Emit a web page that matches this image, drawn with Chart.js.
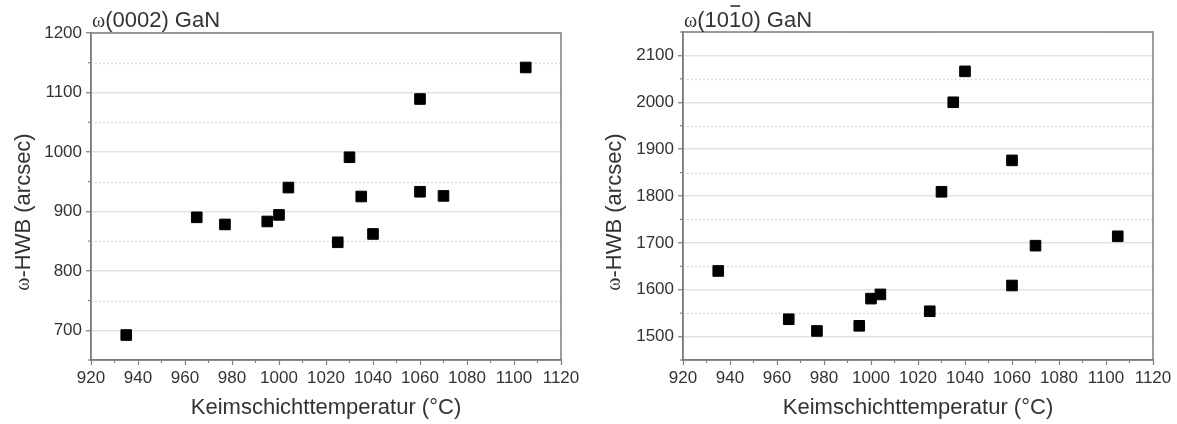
<!DOCTYPE html>
<html>
<head>
<meta charset="utf-8">
<script src="https://cdn.jsdelivr.net/npm/chart.js@4.4.1/dist/chart.umd.min.js"></script>
<style>
  html, body { margin: 0; padding: 0; background: #fff; }
  #wrap { position: relative; width: 1177px; height: 424px; }
  canvas { position: absolute; top: 0; }
</style>
</head>
<body>
<div id="wrap">
  <canvas id="links" width="588" height="424" style="left:0"></canvas>
  <canvas id="rechts" width="589" height="424" style="left:588px"></canvas>
</div>
<script>
// Werte
const temperaturen = [935, 965, 977, 995, 1000, 1004, 1025, 1030, 1035, 1040, 1060, 1060, 1070, 1105];
const hwb0002 = [692, 890, 878, 883, 894, 940, 848, 991, 925, 862, 1089, 933, 926, 1142];
const hwb1010 = [1640, 1537, 1512, 1523, 1581, 1590, 1554, 1809, 2000, 2066, 1876, 1609, 1694, 1714];

const xBereich = [920, 1120];
const yBereich0002 = [650, 1200];
const yBereich1010 = [1450, 2150];

const SANS = '"Liberation Sans", Arial, sans-serif';
const SERIF = '"Liberation Serif", "Times New Roman", serif';
const achsenGrau = '#7d7d7d';
const textFarbe = '#333';

// Text aus mehreren Teilen (omega in Serifenschrift)
function mischText(ctx, teile, x, y, align) {
  let breite = 0;
  teile.forEach(t => { ctx.font = t.font; breite += ctx.measureText(t.text).width; });
  let pos = align === 'center' ? x - breite / 2 : x;
  ctx.textAlign = 'left';
  teile.forEach(t => {
    ctx.font = t.font;
    const w = ctx.measureText(t.text).width;
    ctx.fillText(t.text, pos, y);
    if (t.strich) {
      ctx.save();
      ctx.strokeStyle = textFarbe;
      ctx.lineWidth = 1.6;
      ctx.beginPath();
      ctx.moveTo(pos + 1.5, y - 21);
      ctx.lineTo(pos + w - 1, y - 21);
      ctx.stroke();
      ctx.restore();
    }
    pos += w;
  });
}

const deko = {
  id: 'deko',
  beforeDatasetsDraw(chart, args, opts) {
    const {ctx, chartArea: a, scales: {x, y}} = chart;
    ctx.save();
    // gepunktete Zwischenlinien bei den 50ern
    ctx.strokeStyle = '#d2d2d2';
    ctx.lineWidth = 1.3;
    ctx.setLineDash([1.5, 2.5]);
    for (let v = y.min; v <= y.max; v += 50) {
      if (v % 100 === 0 || v === y.min) continue;
      const py = Math.round(y.getPixelForValue(v)) + 0.5;
      ctx.beginPath(); ctx.moveTo(a.left, py); ctx.lineTo(a.right, py); ctx.stroke();
    }
    ctx.setLineDash([]);
    // kleine Zwischenstriche
    ctx.strokeStyle = achsenGrau;
    ctx.lineWidth = 1.2;
    for (let v = x.min + 10; v < x.max; v += 20) {
      const px = x.getPixelForValue(v);
      ctx.beginPath(); ctx.moveTo(px, a.bottom); ctx.lineTo(px, a.bottom + 3); ctx.stroke();
    }
    for (let v = y.min; v <= y.max; v += 50) {
      if (v % 100 === 0) continue;
      const py = y.getPixelForValue(v);
      ctx.beginPath(); ctx.moveTo(a.left, py); ctx.lineTo(a.left - 3, py); ctx.stroke();
    }
    // Rahmen
    ctx.lineWidth = 1.5;
    ctx.strokeRect(a.left, a.top, a.right - a.left, a.bottom - a.top);
    ctx.restore();
  },
  afterDraw(chart, args, opts) {
    const {ctx, chartArea: a} = chart;
    ctx.save();
    ctx.fillStyle = textFarbe;
    ctx.textBaseline = 'alphabetic';
    mischText(ctx, opts.titel, a.left + 1, 27, 'left');
    ctx.translate(opts.yTitelX, 212);
    ctx.rotate(-Math.PI / 2);
    ctx.textBaseline = 'middle';
    mischText(ctx, [
      {text: 'ω', font: '20px ' + SERIF},
      {text: '-HWB (arcsec)', font: '22px ' + SANS}
    ], 0, 0, 'center');
    ctx.restore();
  }
};

function baueDiagramm(id, werte, yBereich, yBreite, rechtsPad, titel, yTitelX, oben) {
  return new Chart(document.getElementById(id), {
    type: 'scatter',
    data: {
      datasets: [{
        data: temperaturen.map((t, i) => ({x: t, y: werte[i]})),
        pointStyle: 'rect',
        pointRadius: 7.5,
        pointHoverRadius: 7.5,
        backgroundColor: '#000',
        borderColor: '#000',
        borderWidth: 1
      }]
    },
    options: {
      responsive: false,
      animation: false,
      devicePixelRatio: 1,
      layout: {padding: {top: oben, right: rechtsPad, left: 0, bottom: 0}},
      plugins: {
        legend: {display: false},
        tooltip: {enabled: false},
        deko: {titel: titel, yTitelX: yTitelX}
      },
      scales: {
        x: {
          type: 'linear',
          min: xBereich[0], max: xBereich[1],
          afterFit: s => { s.height = 64; },
          ticks: {stepSize: 20, autoSkip: false, maxRotation: 0, padding: 3,
            color: textFarbe, font: {family: SANS, size: 17},
            callback: v => String(v)},
          grid: {drawOnChartArea: false, tickLength: 5, tickColor: achsenGrau, tickWidth: 1.2},
          border: {color: achsenGrau, width: 1.5},
          title: {display: true, text: 'Keimschichttemperatur (°C)', color: textFarbe,
            font: {family: SANS, size: 22}, padding: {top: 0, bottom: 3}}
        },
        y: {
          min: yBereich[0], max: yBereich[1],
          afterFit: s => { s.width = yBreite; },
          ticks: {stepSize: 50, autoSkip: false, padding: 4, color: textFarbe,
            font: {family: SANS, size: 17},
            callback: v => (v % 100 === 0 ? String(v) : '')},
          grid: {
            color: c => (c.tick && c.tick.value % 100 === 0 ? '#e4e4e4' : 'rgba(0,0,0,0)'),
            lineWidth: 1.5,
            tickLength: 5,
            tickColor: c => (c.tick && c.tick.value % 100 === 0 ? achsenGrau : 'rgba(0,0,0,0)'),
            tickWidth: 1.2
          },
          border: {color: achsenGrau, width: 1.5}
        }
      }
    },
    plugins: [deko]
  });
}

baueDiagramm('links', hwb0002, yBereich0002, 91, 27, [
  {text: 'ω', font: '20px ' + SERIF},
  {text: '(0002) GaN', font: '22px ' + SANS}
], 24, 33);

baueDiagramm('rechts', hwb1010, yBereich1010, 95, 24, [
  {text: 'ω', font: '20px ' + SERIF},
  {text: '(10', font: '22px ' + SANS},
  {text: '1', font: '22px ' + SANS, strich: true},
  {text: '0) GaN', font: '22px ' + SANS}
], 27, 32);
</script>
</body>
</html>
